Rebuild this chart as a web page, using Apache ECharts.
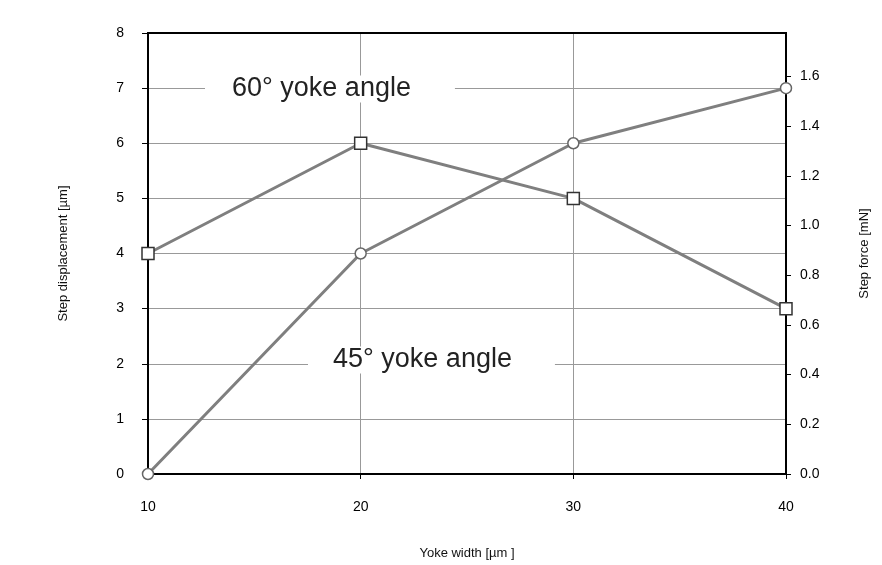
<!DOCTYPE html>
<html>
<head>
<meta charset="utf-8">
<script src="https://cdn.jsdelivr.net/npm/echarts@6/dist/echarts.min.js"></script>
<style>
  html, body { margin: 0; padding: 0; background: #fff; }
  #chart { width: 882px; height: 565px; }
</style>
</head>
<body>
<div id="chart"></div>
<script>
const yokeWidths = [10, 20, 30, 40];
const angle60 = [4, 6, 5, 3];
const angle45 = [0, 4, 6, 7];
const forceTicks = [0, 0.2, 0.4, 0.6, 0.8, 1.0, 1.2, 1.4, 1.6];

const chart = echarts.init(document.getElementById('chart'));

const font = 'Liberation Sans, Arial, sans-serif';
const lineGrey = '#7f7f7f';
const gridGrey = '#999';

const option = {
  backgroundColor: '#fff',
  animation: false,
  grid: { left: 148, right: 96, top: 33, bottom: 91 },
  xAxis: {
    type: 'value',
    min: 10,
    max: 40,
    interval: 10,
    name: 'Yoke width [µm ]',
    nameLocation: 'middle',
    nameGap: 73,
    nameTextStyle: { color: '#111', fontSize: 13, fontFamily: font },
    axisLine: { lineStyle: { color: '#000', width: 2 } },
    axisTick: { show: true, length: 5, lineStyle: { color: '#000' } },
    axisLabel: { color: '#000', fontSize: 14, fontFamily: font, margin: 26 },
    splitLine: { show: true, lineStyle: { color: gridGrey, width: 1 } }
  },
  yAxis: [
    {
      type: 'value',
      min: 0,
      max: 8,
      interval: 1,
      name: 'Step displacement [µm]',
      nameLocation: 'middle',
      nameGap: 78,
      nameRotate: 90,
      nameTextStyle: { color: '#111', fontSize: 13, fontFamily: font },
      axisLine: { show: true, lineStyle: { color: '#000', width: 2 } },
      axisTick: { show: true, length: 6, lineStyle: { color: '#000' } },
      axisLabel: { color: '#000', fontSize: 14, fontFamily: font, margin: 24 },
      splitLine: { show: true, lineStyle: { color: gridGrey, width: 1 } }
    },
    {
      type: 'value',
      position: 'right',
      min: 0,
      max: 1.775,
      interval: 0.2,
      name: 'Step force [mN]',
      nameLocation: 'middle',
      nameGap: 72,
      nameRotate: 90,
      nameTextStyle: { color: '#111', fontSize: 13, fontFamily: font },
      axisLine: { show: true, lineStyle: { color: '#000', width: 2 } },
      axisTick: { show: true, length: 5, customValues: forceTicks, lineStyle: { color: '#000' } },
      axisLabel: {
        color: '#000', fontSize: 14, fontFamily: font, margin: 14,
        customValues: forceTicks,
        formatter: v => v.toFixed(1)
      },
      splitLine: { show: false }
    }
  ],
  graphic: [
    {
      type: 'rect',
      shape: { x: 148, y: 33, width: 638, height: 441 },
      style: { fill: 'none', stroke: '#000', lineWidth: 2 },
      silent: true,
      z: 1
    },
    {
      type: 'text',
      x: 205,
      y: 89,
      style: {
        text: '60° yoke angle', fontSize: 27, fontFamily: font, fill: '#222',
        verticalAlign: 'middle', align: 'left',
        backgroundColor: '#fff', padding: [0, 44, 0, 27]
      },
      z: 2
    },
    {
      type: 'text',
      x: 308,
      y: 360,
      style: {
        text: '45° yoke angle', fontSize: 27, fontFamily: font, fill: '#222',
        verticalAlign: 'middle', align: 'left',
        backgroundColor: '#fff', padding: [0, 43, 0, 25]
      },
      z: 2
    }
  ],
  series: [
    {
      name: '60° yoke angle',
      type: 'line',
      yAxisIndex: 0,
      data: yokeWidths.map((x, i) => [x, angle60[i]]),
      symbol: 'rect',
      symbolSize: 12,
      lineStyle: { color: lineGrey, width: 3 },
      itemStyle: { color: '#fff', borderColor: '#333', borderWidth: 1.5 },
      z: 5
    },
    {
      name: '45° yoke angle',
      type: 'line',
      yAxisIndex: 0,
      data: yokeWidths.map((x, i) => [x, angle45[i]]),
      symbol: 'circle',
      symbolSize: 11,
      lineStyle: { color: lineGrey, width: 3 },
      itemStyle: { color: '#fff', borderColor: '#666', borderWidth: 1.5 },
      z: 5
    }
  ]
};

chart.setOption(option);
</script>
</body>
</html>
